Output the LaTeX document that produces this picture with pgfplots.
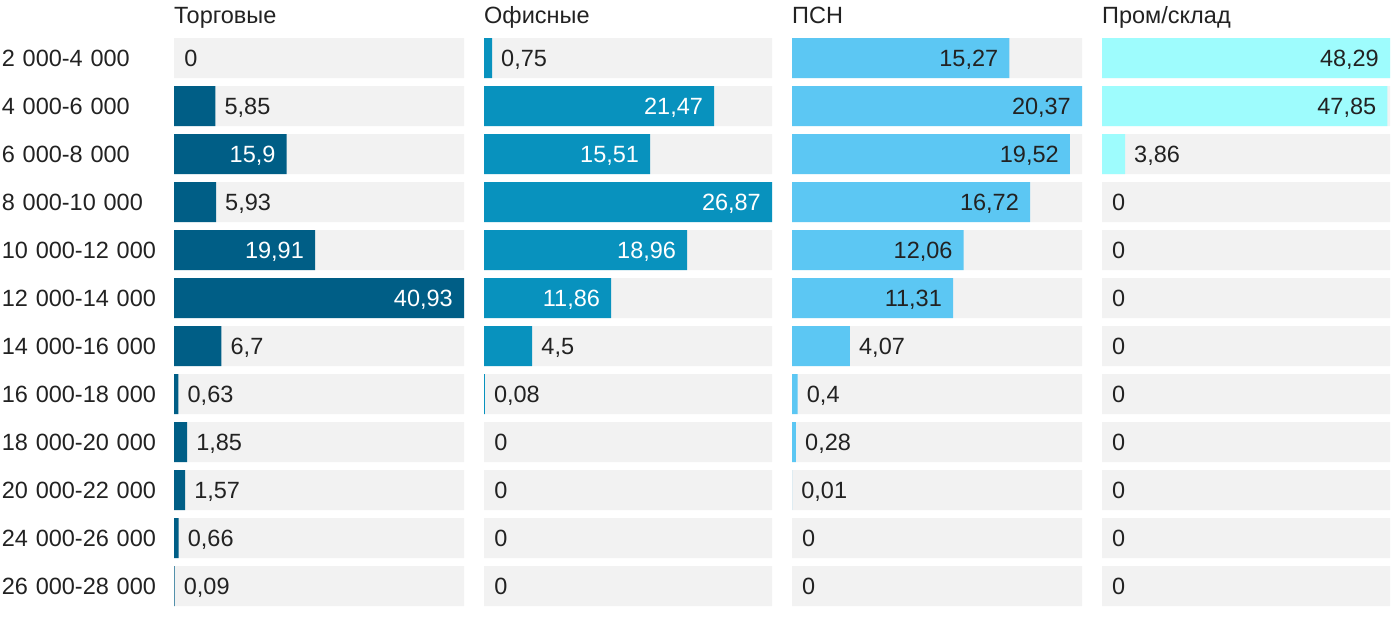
\documentclass[border=0pt]{standalone}
\usepackage{fontspec}
\setmainfont{Liberation Sans}
\usepackage{pgfplots}
\pgfplotsset{compat=1.18}

\definecolor{c1}{RGB}{0,94,134}
\definecolor{c2}{RGB}{8,146,190}
\definecolor{c3}{RGB}{92,199,243}
\definecolor{c4}{RGB}{158,252,253}
\definecolor{bg}{RGB}{242,242,242}
\definecolor{txt}{RGB}{34,34,34}

\newcommand{\lbl}{\fontsize{23.5bp}{28bp}\selectfont}

\pgfplotsset{
  panel/.style={
    scale only axis, height=576bp,
    anchor=south west,
    xmin=0, ymin=-0.5, ymax=11.5, y dir=reverse,
    enlargelimits=false, clip=false,
    axis line style={draw=none},
    xtick=\empty, ytick=\empty,
    major tick length=0pt,
    title style={at={(0,1)}, anchor=base west, yshift=5bp,
      inner sep=0pt, font=\lbl, text=txt},
  },
  back/.style={xbar, bar width=40bp, bar shift=0pt, fill=bg, draw=none},
  bars/.style={xbar, bar width=40bp, bar shift=0pt, fill=#1, draw=none},
  inlbl/.style={draw=none, no marks, point meta=explicit symbolic,
    nodes near coords={\pgfplotspointmeta},
    every node near coord/.style={anchor=base east, xshift=-11bp,
      yshift=-8.5bp, inner sep=0pt, font=\lbl, text=#1}},
  outlbl/.style={draw=none, no marks, point meta=explicit symbolic,
    nodes near coords={\pgfplotspointmeta},
    every node near coord/.style={anchor=base west, xshift=9bp,
      yshift=-8.5bp, inner sep=0pt, font=\lbl, text=txt}},
}

\begin{document}
\begin{tikzpicture}

% Торговые
\begin{axis}[panel, at={(174bp,12bp)}, width=290bp, xmax=40.93,
  title={Торговые},
  ytick={0,...,11},
  yticklabels={2 000-4 000, 4 000-6 000, 6 000-8 000, 8 000-10 000,
    10 000-12 000, 12 000-14 000, 14 000-16 000, 16 000-18 000,
    18 000-20 000, 20 000-22 000, 24 000-26 000, 26 000-28 000},
  yticklabel style={anchor=east, inner sep=0pt, text width=172bp,
    align=left, font=\lbl, text=txt},
]
\addplot[back] coordinates {(40.93,0)(40.93,1)(40.93,2)(40.93,3)(40.93,4)
  (40.93,5)(40.93,6)(40.93,7)(40.93,8)(40.93,9)(40.93,10)(40.93,11)};
\addplot[bars=c1] coordinates {(5.85,1)(15.9,2)(5.93,3)(19.91,4)
  (40.93,5)(6.7,6)(0.63,7)(1.85,8)(1.57,9)(0.66,10)(0.09,11)};
\addplot[inlbl=white] coordinates {(15.9,2)[{15,9}] (19.91,4)[{19,91}]
  (40.93,5)[{40,93}]};
\addplot[outlbl] coordinates {(0.15,0)[0] (5.85,1)[{5,85}] (5.93,3)[{5,93}]
  (6.7,6)[{6,7}] (0.63,7)[{0,63}] (1.85,8)[{1,85}] (1.57,9)[{1,57}]
  (0.66,10)[{0,66}] (0.09,11)[{0,09}]};
\end{axis}

% Офисные
\begin{axis}[panel, at={(484bp,12bp)}, width=288bp, xmax=26.87,
  title={Офисные}]
\addplot[back] coordinates {(26.87,0)(26.87,1)(26.87,2)(26.87,3)(26.87,4)
  (26.87,5)(26.87,6)(26.87,7)(26.87,8)(26.87,9)(26.87,10)(26.87,11)};
\addplot[bars=c2] coordinates {(0.75,0)(21.47,1)(15.51,2)(26.87,3)(18.96,4)
  (11.86,5)(4.5,6)(0.08,7)};
\addplot[inlbl=white] coordinates {(21.47,1)[{21,47}] (15.51,2)[{15,51}]
  (26.87,3)[{26,87}] (18.96,4)[{18,96}] (11.86,5)[{11,86}]};
\addplot[outlbl] coordinates {(0.75,0)[{0,75}] (4.5,6)[{4,5}] (0.08,7)[{0,08}]
  (0.1,8)[0] (0.1,9)[0] (0.1,10)[0] (0.1,11)[0]};
\end{axis}

% ПСН
\begin{axis}[panel, at={(792bp,12bp)}, width=290bp, xmax=20.37,
  title={ПСН}]
\addplot[back] coordinates {(20.37,0)(20.37,1)(20.37,2)(20.37,3)(20.37,4)
  (20.37,5)(20.37,6)(20.37,7)(20.37,8)(20.37,9)(20.37,10)(20.37,11)};
\addplot[bars=c3] coordinates {(15.27,0)(20.37,1)(19.52,2)(16.72,3)(12.06,4)
  (11.31,5)(4.07,6)(0.4,7)(0.28,8)(0.01,9)};
\addplot[inlbl=txt] coordinates {(15.27,0)[{15,27}] (20.37,1)[{20,37}]
  (19.52,2)[{19,52}] (16.72,3)[{16,72}] (12.06,4)[{12,06}]
  (11.31,5)[{11,31}]};
\addplot[outlbl] coordinates {(4.07,6)[{4,07}] (0.4,7)[{0,4}] (0.28,8)[{0,28}]
  (0.01,9)[{0,01}] (0.07,10)[0] (0.07,11)[0]};
\end{axis}

% Пром/склад
\begin{axis}[panel, at={(1102bp,12bp)}, width=288bp, xmax=48.29,
  title={Пром/склад}]
\addplot[back] coordinates {(48.29,0)(48.29,1)(48.29,2)(48.29,3)(48.29,4)
  (48.29,5)(48.29,6)(48.29,7)(48.29,8)(48.29,9)(48.29,10)(48.29,11)};
\addplot[bars=c4] coordinates {(48.29,0)(47.85,1)(3.86,2)};
\addplot[inlbl=txt] coordinates {(48.29,0)[{48,29}] (47.85,1)[{47,85}]};
\addplot[outlbl] coordinates {(3.86,2)[{3,86}] (0.17,3)[0] (0.17,4)[0]
  (0.17,5)[0] (0.17,6)[0] (0.17,7)[0] (0.17,8)[0] (0.17,9)[0] (0.17,10)[0]
  (0.17,11)[0]};
\end{axis}

\pgfresetboundingbox
\path (0,0) rectangle (1400bp,622bp);
\end{tikzpicture}
\end{document}
